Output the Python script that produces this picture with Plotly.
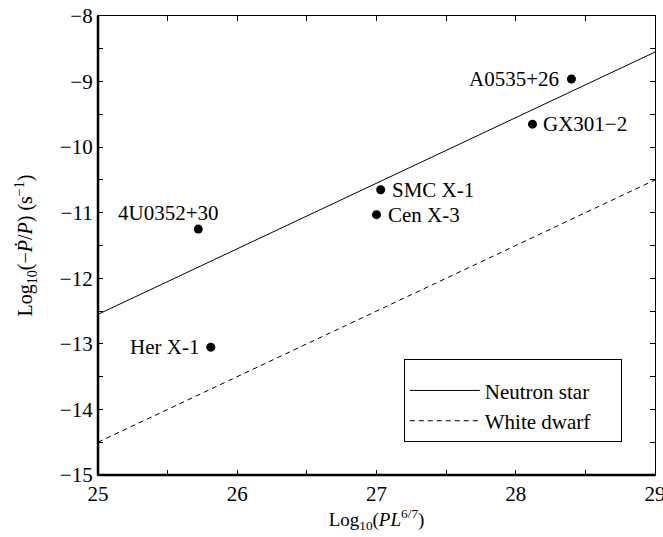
import plotly.graph_objects as go

# Data
sources = ["A0535+26", "GX301\u22122", "SMC X-1", "Cen X-3", "4U0352+30", "Her X-1"]
log_pl = [28.40, 28.12, 27.03, 27.00, 25.72, 25.81]
log_pdot = [-8.96, -9.65, -10.65, -11.03, -11.25, -13.05]

line_x = [25, 29]
neutron_star = [-12.55, -8.55]
white_dwarf = [-14.5, -10.5]

x_tickvals = [25, 25.5, 26, 26.5, 27, 27.5, 28, 28.5, 29]
x_ticktext = ["25", "", "26", "", "27", "", "28", "", "29"]
y_tickvals = [-15, -14.5, -14, -13.5, -13, -12.5, -12, -11.5, -11, -10.5, -10, -9.5, -9, -8.5, -8]
y_ticktext = ["\u221215", "", "\u221214", "", "\u221213", "", "\u221212", "", "\u221211", "",
              "\u221210", "", "\u22129", "", "\u22128"]

FONT = "Liberation Serif, Times New Roman, serif"

fig = go.Figure()
fig.add_trace(go.Scatter(x=line_x, y=neutron_star, mode="lines",
                         name="Neutron star\u00a0\u00a0\u00a0\u00a0\u00a0",
                         line=dict(color="black", width=1)))
fig.add_trace(go.Scatter(x=line_x, y=white_dwarf, mode="lines",
                         name="White dwarf",
                         line=dict(color="black", width=1, dash="5px,4px")))
fig.add_trace(go.Scatter(x=log_pl, y=log_pdot, mode="markers", showlegend=False,
                         marker=dict(color="black", size=9)))

label_pos = {
    "A0535+26": dict(xanchor="right", yanchor="middle", xshift=-10, yshift=0),
    "GX301\u22122": dict(xanchor="left", yanchor="middle", xshift=9, yshift=0),
    "SMC X-1": dict(xanchor="left", yanchor="middle", xshift=9, yshift=0),
    "Cen X-3": dict(xanchor="left", yanchor="middle", xshift=9, yshift=0),
    "4U0352+30": dict(xanchor="center", yanchor="bottom", xshift=-30, yshift=2),
    "Her X-1": dict(xanchor="right", yanchor="middle", xshift=-10, yshift=0),
}
for s, xv, yv in zip(sources, log_pl, log_pdot):
    p = label_pos[s]
    fig.add_annotation(x=xv, y=yv, text=s, showarrow=False,
                       xanchor=p["xanchor"], yanchor=p["yanchor"],
                       xshift=p["xshift"], yshift=p["yshift"],
                       font=dict(family=FONT, size=21, color="black"))

# thicker left and bottom axis lines
fig.add_shape(type="line", xref="paper", yref="paper", x0=0, x1=1, y0=0, y1=0,
              line=dict(color="black", width=2.5))
fig.add_shape(type="line", xref="paper", yref="paper", x0=0, x1=0, y0=0, y1=1,
              line=dict(color="black", width=2.5))

fig.update_layout(
    width=663, height=537,
    margin=dict(l=98, r=8, t=16, b=62, autoexpand=False),
    plot_bgcolor="white", paper_bgcolor="white",
    font=dict(family=FONT, size=21, color="black"),
    showlegend=True,
    legend=dict(x=0.549, y=0.253, xanchor="left", yanchor="top",
                bordercolor="black", borderwidth=1, bgcolor="white",
                font=dict(family=FONT, size=21), itemwidth=70,
                title=dict(text=" ", font=dict(size=8))),
    xaxis=dict(range=[25, 29], tickmode="array", tickvals=x_tickvals, ticktext=x_ticktext,
               ticks="inside", ticklen=5, tickcolor="black",
               showline=True, linecolor="black", linewidth=1.2, mirror="allticks",
               showgrid=False, zeroline=False, ticklabeloverflow="allow", automargin=False,
               title=dict(text="Log<sub>10</sub>(<i>PL</i><sup>6/7</sup>)", standoff=2,
                          font=dict(size=19)),
               tickfont=dict(size=21)),
    yaxis=dict(range=[-15, -8], tickmode="array", tickvals=y_tickvals, ticktext=y_ticktext,
               ticks="inside", ticklen=5, tickcolor="black",
               showline=True, linecolor="black", linewidth=1.2, mirror="allticks",
               showgrid=False, zeroline=False, automargin=False,
               title=dict(text="Log<sub>10</sub>(\u2212<i>\u1E56</i>/<i>P</i>) (s<sup>\u22121</sup>)",
                          standoff=21, font=dict(size=20)),
               tickfont=dict(size=21)),
)

fig.write_html("out.html", config={"displayModeBar": False},
               post_script="document.body.style.margin='0';document.body.style.overflow='hidden';")
